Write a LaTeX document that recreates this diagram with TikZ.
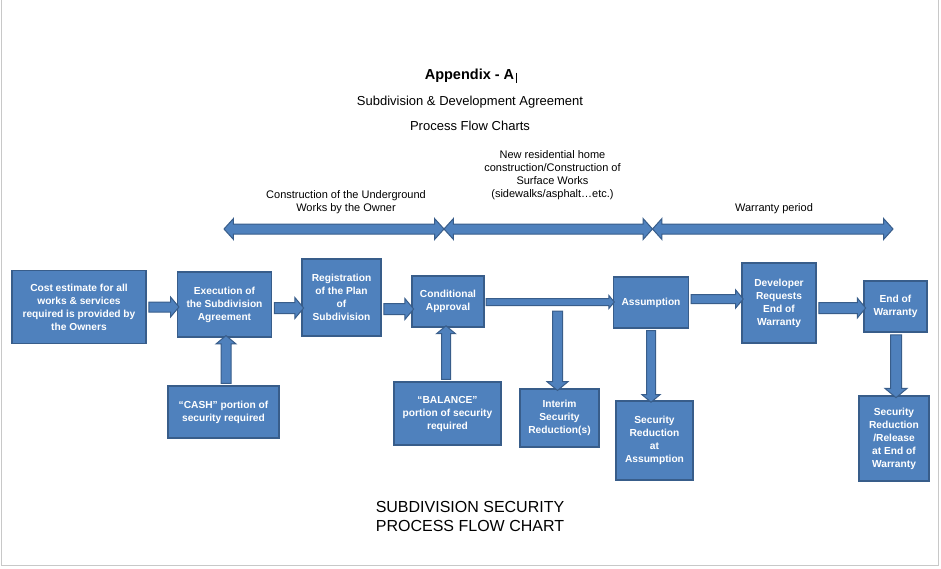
\documentclass[tikz,border=0pt]{standalone}
\usepackage{fontspec}
\setmainfont{Liberation Sans}
\usetikzlibrary{calc}
\usetikzlibrary{shapes.arrows}
\usepackage{xcolor}
\definecolor{boxblue}{RGB}{79, 129, 189}
\definecolor{boxline}{RGB}{56, 93, 138}
\definecolor{framegray}{RGB}{200, 200, 200}

\tikzset{
  box/.style={draw=boxline, fill=boxblue, line width=1.3pt, text=white,
    font=\bfseries\fontsize{10.2}{13}\selectfont, align=center, inner sep=0pt},
  barrow/.style={single arrow, draw=boxline, fill=boxblue, line width=1pt,
    inner xsep=0pt, outer sep=0pt, single arrow tip angle=100},
  darrow/.style={double arrow, draw=boxline, fill=boxblue, line width=1pt,
    inner xsep=0pt, inner ysep=4.5pt, outer sep=0pt, double arrow tip angle=96,
    double arrow head extend=5.5pt},
  lbl/.style={font=\fontsize{11}{12.8}\selectfont, align=center, inner sep=0pt}
}

% 2点の間に太い矢印（#1 = 軸の半幅, #2 = 頭の張り出し）
\newcommand{\blockarrow}[4]{%
  \path let \p1=(#3), \p2=(#4),
    \n1={veclen(\x2-\x1,\y2-\y1)}, \n2={atan2(\y2-\y1,\x2-\x1)} in
    node[barrow, inner ysep=#1, single arrow head extend=#2, minimum height=\n1, rotate=\n2] at ($(\p1)!0.5!(\p2)$) {};}
\newcommand{\spanarrow}[2]{%
  \path let \p1=(#1), \p2=(#2), \n1={veclen(\x2-\x1,\y2-\y1)} in
    node[darrow, minimum height=\n1] at ($(\p1)!0.5!(\p2)$) {};}

\begin{document}
\begin{tikzpicture}[x=1pt, y=-1pt]
        \useasboundingbox (0,0) rectangle (941,568);
        % 枠
        \draw[framegray, line width=1pt] (1.5,0) -- (1.5,565.5) -- (938,565.5) -- (938,0);
        % タイトル
        \node[anchor=base, inner sep=0pt, font=\bfseries\fontsize{14.5}{17}\selectfont] (title) at (469.5,79) {Appendix - A};
        \draw[line width=0.6pt] (516,72.5) -- (516,83);
        \node[anchor=base, inner sep=0pt, font=\fontsize{13}{15}\selectfont] (sub) at (470,105) {Subdivision \& Development Agreement};
        \node[anchor=base, inner sep=0pt, font=\fontsize{13}{15}\selectfont] (charts) at (470,130) {Process Flow Charts};
        % 期間のラベル（base = 最後の行）
        \node[lbl, anchor=base] (under) at (346,211) {Construction of the Underground\\Works by the Owner};
        \node[lbl, anchor=base] (surface) at (552.5,197) {New residential home\\construction/Construction of\\Surface Works\\(sidewalks/asphalt\dots etc.)};
        \node[lbl, anchor=base] (warr) at (774,211.5) {Warranty period};
        % 期間の両矢印
        \coordinate (p0) at (224,229);
        \coordinate (p1) at (444,229);
        \coordinate (p2) at (652.5,229);
        \coordinate (p3) at (893,229);
        \spanarrow{p0}{p1}
        \spanarrow{p1}{p2}
        \spanarrow{p2}{p3}
        % 上の段
        \node[box, minimum width=134, minimum height=73] (cost) at (79,307) {Cost estimate for all\\works \& services\\required is provided by\\the Owners};
        \node[box, minimum width=94, minimum height=65] (exec) at (224.5,304.5) {Execution of\\the Subdivision\\Agreement};
        \node[box, minimum width=79, minimum height=77] (reg) at (341.5,297.5) {Registration\\of the Plan\\of\\Subdivision};
        \node[box, minimum width=72, minimum height=51] (cond) at (448,301.5) {Conditional\\Approval};
        \node[box, minimum width=75, minimum height=51] (assump) at (651,302.5) {Assumption};
        \node[box, minimum width=74, minimum height=80] (devreq) at (779,303) {Developer\\Requests\\End of\\Warranty};
        \node[box, minimum width=63, minimum height=51] (eow) at (895.5,306.5) {End of\\Warranty};
        % 下の段
        \node[box, minimum width=111, minimum height=52] (cash) at (223.5,412) {``CASH'' portion of\\security required};
        \node[box, minimum width=107, minimum height=63] (balance) at (447.5,413.5) {``BALANCE''\\portion of security\\required};
        \node[box, minimum width=79, minimum height=58] (interim) at (559.5,418) {Interim\\Security\\Reduction(s)};
        \node[box, minimum width=77, minimum height=79] (redassump) at (654.5,440.5) {Security\\Reduction\\at\\Assumption};
        \node[box, minimum width=70, minimum height=85] (release) at (894,438.5) {Security\\Reduction\\/Release\\at End of\\Warranty};
        % 横の矢印
        \blockarrow{4.5pt}{5pt}{cost.east |- 0,307}{exec.west |- 0,307}
        \blockarrow{5pt}{5pt}{exec.east |- 0,308}{reg.west |- 0,308}
        \blockarrow{5pt}{5pt}{reg.east |- 0,309}{cond.west |- 0,309}
        \blockarrow{3pt}{3pt}{cond.east |- 0,302}{assump.west |- 0,302}
        \blockarrow{4pt}{4.5pt}{assump.east |- 0,299}{devreq.west |- 0,299}
        \blockarrow{5pt}{4.5pt}{devreq.east |- 0,308}{eow.west |- 0,308}
        % 縦の矢印
        \coordinate (istart) at (557.5,309);
        \blockarrow{4.5pt}{5pt}{cash.north -| 226,0}{exec.south -| 226,0}
        \blockarrow{4pt}{5pt}{balance.north -| 446,0}{cond.south -| 446,0}
        \blockarrow{4.5pt}{5.5pt}{istart}{interim.north -| istart}
        \blockarrow{4pt}{4.5pt}{assump.south -| 651,0}{redassump.north -| 651,0}
        \blockarrow{5pt}{5.5pt}{eow.south -| 896,0}{release.north -| 896,0}
        % 下のタイトル
        \node[anchor=base, inner sep=0pt, align=center, font=\fontsize{16}{19}\selectfont] (bottom) at (470,531) {SUBDIVISION SECURITY\\PROCESS FLOW CHART};
    \end{tikzpicture}
\end{document}
